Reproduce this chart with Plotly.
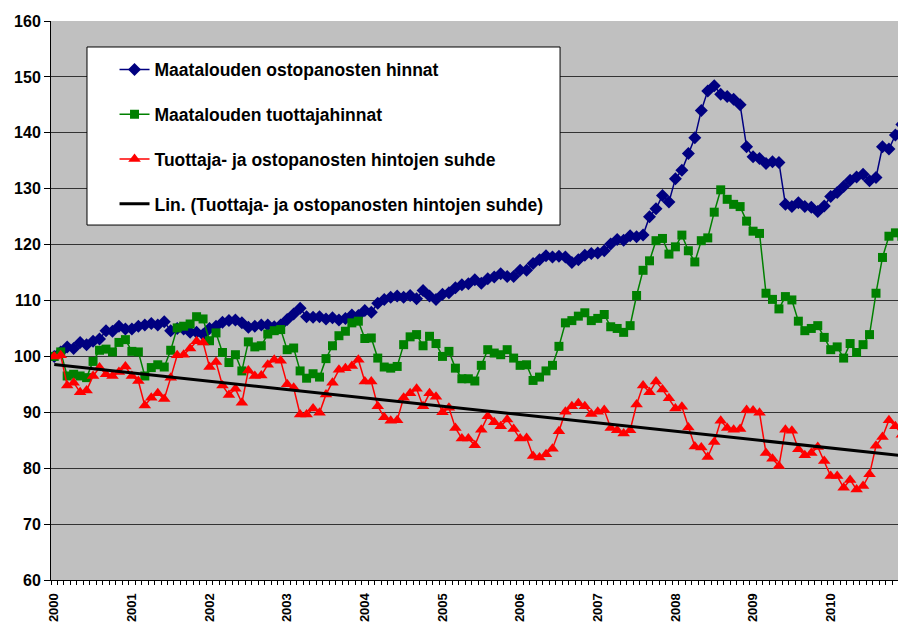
import numpy as np
import plotly.graph_objects as go

# ---------------- data ----------------
year_labels = ["2000", "2001", "2002", "2003", "2004", "2005",
               "2006", "2007", "2008", "2009", "2010"]

ostopanos = [  # Maatalouden ostopanosten hinnat (monthly, 2000-01 ...)
    100.0, 100.8, 101.7, 101.4, 102.5, 102.1, 102.7, 103.1, 104.6, 104.5, 105.4, 104.9,
    104.9, 105.4, 105.6, 105.9, 105.6, 106.2, 104.6, 105.0, 104.9, 104.3, 104.3, 103.9,
    105.0, 105.4, 106.1, 106.4, 106.5, 106.0, 105.2, 105.4, 105.6, 105.6, 105.3, 105.6,
    106.6, 107.6, 108.6, 107.1, 107.0, 107.1, 106.7, 106.9, 106.5, 106.8, 107.4, 107.3,
    108.2, 107.9, 109.5, 110.2, 110.6, 110.8, 110.6, 110.9, 110.3, 111.8, 110.8, 110.2,
    111.1, 111.4, 112.3, 112.8, 113.0, 113.7, 113.1, 113.9, 114.2, 114.8, 114.3, 114.3,
    115.4, 115.4, 116.6, 117.3, 118.0, 117.8, 117.9, 117.8, 116.8, 117.3, 118.1, 118.4,
    118.5, 118.9, 120.1, 120.9, 120.8, 121.6, 121.4, 121.7, 125.0, 126.4, 128.8, 127.6,
    131.8, 133.3, 136.3, 139.1, 144.0, 147.5, 148.4, 146.9, 146.5, 146.0, 145.0, 137.5,
    135.7, 135.4, 134.5, 134.8, 134.7, 127.2, 126.8, 127.5, 126.8, 126.7, 125.9, 126.9,
    128.6, 129.3, 130.4, 131.5, 132.1, 132.6, 131.4, 132.0, 137.5, 137.1, 139.6, 141.5,
]

tuottaja = [  # Maatalouden tuottajahinnat
    100.0, 100.8, 96.5, 96.8, 96.5, 96.2, 99.1, 101.1, 101.3, 100.8, 102.5, 103.0,
    100.9, 100.8, 96.5, 98.0, 98.5, 98.1, 101.1, 105.1, 105.4, 105.8, 107.1, 106.7,
    102.8, 104.2, 100.7, 98.9, 100.3, 97.4, 102.6, 101.7, 101.9, 104.0, 104.6, 104.8,
    101.2, 101.5, 97.4, 96.1, 96.9, 96.3, 99.6, 101.9, 103.7, 104.5, 106.0, 106.3,
    103.2, 103.3, 99.7, 98.1, 97.9, 98.2, 102.1, 103.5, 103.9, 101.9, 103.6, 102.3,
    100.0, 100.9, 97.9, 96.0, 96.0, 95.6, 98.4, 101.2, 100.6, 100.3, 101.2, 99.7,
    98.4, 98.5, 95.7, 96.3, 97.4, 98.4, 101.8, 106.0, 106.4, 107.2, 107.8, 106.4,
    106.8, 107.5, 105.3, 105.0, 104.3, 105.5, 110.9, 115.4, 117.1, 120.7, 121.1, 118.3,
    119.6, 121.7, 118.9, 116.9, 120.7, 121.2, 125.8, 129.8, 128.1, 127.2, 126.8, 124.2,
    122.4, 122.0, 111.3, 110.2, 108.5, 110.7, 110.1, 106.3, 104.6, 105.0, 105.5, 103.4,
    101.2, 101.7, 99.7, 102.3, 100.7, 102.1, 103.9, 111.3, 117.7, 121.5, 122.1, 121.5,
]

suhde = [  # Tuottaja- ja ostopanosten hintojen suhde
    100.0, 100.2, 94.8, 95.3, 93.6, 93.9, 96.5, 98.0, 96.8, 96.5, 97.2, 98.2,
    96.5, 95.6, 91.2, 92.6, 93.4, 92.4, 96.2, 100.2, 100.3, 101.4, 102.7, 102.5,
    98.1, 99.0, 94.8, 93.1, 94.2, 91.7, 97.5, 96.5, 96.6, 98.5, 99.4, 99.2,
    95.0, 94.4, 89.6, 89.6, 90.7, 89.9, 93.2, 95.3, 97.6, 97.9, 98.3, 99.4,
    95.5, 95.5, 91.1, 89.1, 88.5, 88.6, 92.6, 93.4, 94.2, 91.1, 93.4, 92.8,
    90.0, 90.8, 87.2, 85.3, 85.3, 84.1, 86.9, 89.3, 88.2, 87.5, 88.7, 87.0,
    85.3, 85.4, 82.2, 81.9, 82.5, 83.5, 86.6, 90.1, 91.1, 91.6, 91.1, 89.7,
    90.1, 90.4, 87.2, 86.8, 86.2, 86.8, 91.4, 94.8, 93.6, 95.5, 94.1, 92.5,
    90.7, 91.0, 87.3, 83.9, 83.7, 82.0, 84.7, 88.5, 87.2, 86.9, 87.0, 90.4,
    90.3, 89.9, 82.7, 81.7, 80.4, 86.9, 86.7, 83.4, 82.3, 82.7, 83.8, 81.3,
    78.6, 78.6, 76.5, 77.9, 76.2, 76.8, 78.9, 84.0, 85.6, 88.6, 87.5, 86.0,
]

names = [
    "Maatalouden ostopanosten hinnat",
    "Maatalouden tuottajahinnat",
    "Tuottaja- ja ostopanosten hintojen suhde",
    "Lin. (Tuottaja- ja ostopanosten hintojen suhde)",
]

# ---------------- figure ----------------
months = np.arange(len(suhde))
coef = np.polyfit(months, suhde, 1)
trend = np.polyval(coef, months)

FONT = "Liberation Sans, Arial, sans-serif"

fig = go.Figure()
fig.add_trace(go.Scatter(
    x=months, y=ostopanos, name=names[0], mode="lines+markers", legendgroup="a",
    line=dict(color="#000080", width=1.5),
    marker=dict(symbol="diamond", size=10, color="#000080")))
fig.add_trace(go.Scatter(
    x=months, y=tuottaja, name=names[1], mode="lines+markers", legendgroup="b",
    line=dict(color="#008000", width=1.5),
    marker=dict(symbol="square", size=9, color="#008000")))
fig.add_trace(go.Scatter(
    x=months, y=suhde, name=names[2], mode="lines+markers", legendgroup="c",
    line=dict(color="#FF0000", width=1.5),
    marker=dict(symbol="triangle-up", size=11, color="#FF0000")))
fig.add_trace(go.Scatter(
    x=months, y=trend, name=names[3], mode="lines", legendgroup="d",
    line=dict(color="#000000", width=3)))

fig.update_layout(
    width=898, height=623,
    margin=dict(l=51, r=0, t=21, b=43),
    plot_bgcolor="#C0C0C0", paper_bgcolor="white",
    font=dict(family=FONT, color="black"),
    showlegend=True,
    legend=dict(
        x=0.075, y=0.945, xanchor="left", yanchor="top",
        bgcolor="rgba(0,0,0,0)", borderwidth=0,
        font=dict(family=FONT, size=17.5, weight="bold", color="black"),
        traceorder="grouped", tracegroupgap=19,
    ),
    shapes=[dict(
        type="rect", xref="paper", yref="paper",
        x0=0.0425, x1=0.601, y0=0.635, y1=0.9535,
        fillcolor="white", line=dict(color="black", width=1), layer="above",
    )],
)

fig.update_xaxes(
    range=[-0.5, 130.4],
    automargin=False,
    tickmode="array",
    tickvals=[12 * k for k in range(len(year_labels))],
    ticktext=year_labels,
    tickangle=-90,
    ticks="outside", ticklen=7, tickcolor="rgba(0,0,0,0)",
    tickfont=dict(family=FONT, size=13, weight="bold", color="black"),
    minor=dict(tickmode="linear", tick0=-0.5, dtick=1, ticks="outside",
               ticklen=4, tickcolor="black", tickwidth=1, showgrid=False),
    showgrid=False, zeroline=False,
    showline=True, linecolor="black", linewidth=1,
)
fig.update_yaxes(
    range=[60, 160],
    automargin=False,
    tickmode="linear", tick0=60, dtick=10,
    ticks="outside", ticklen=6, tickcolor="black",
    tickfont=dict(family=FONT, size=16, weight="bold", color="black"),
    showgrid=True, gridcolor="#333333", gridwidth=1,
    zeroline=False,
    showline=True, linecolor="black", linewidth=1,
)

fig.write_html(
    "out.html",
    config={"displayModeBar": False},
    post_script="document.body.style.margin='0px';document.body.style.overflow='hidden';",
)
